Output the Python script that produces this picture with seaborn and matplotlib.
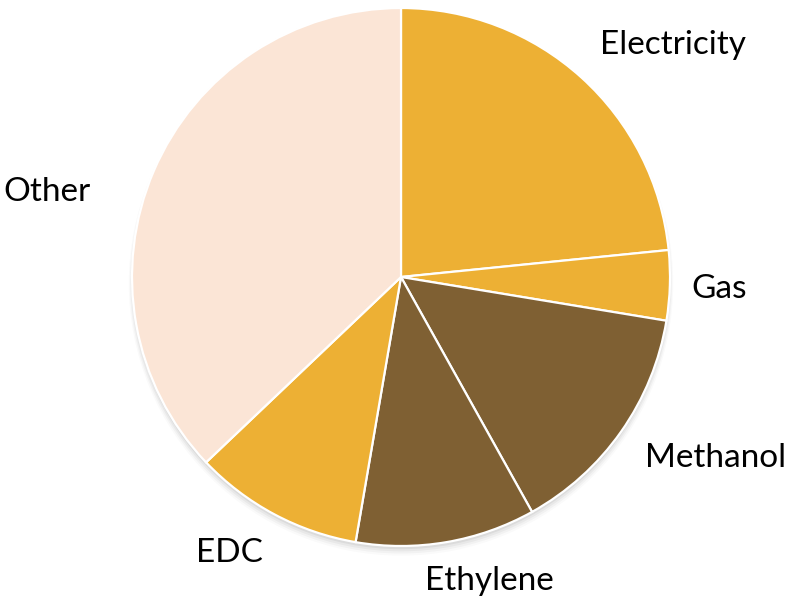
import matplotlib
matplotlib.use("Agg")
import matplotlib.pyplot as plt
import seaborn as sns
from matplotlib.patches import Circle

sns.set_theme(style="white")
plt.rcParams["font.family"] = ["Lato", "DejaVu Sans"]

# Share of each source (%)
categories = ["Electricity", "Gas", "Methanol", "Ethylene", "EDC", "Other"]
shares = [23.4, 4.2, 14.3, 10.8, 10.2, 37.1]

gold = "#EDB034"
brown = "#7F6033"
peach = "#FBE5D6"
colors = [gold, gold, brown, brown, gold, peach]

# Label anchor points, in units of the pie radius
label_pos = [(1.011, 0.862), (1.182, -0.045), (1.171, -0.673),
             (0.327, -1.130), (-0.639, -1.026), (-1.316, 0.316)]

fig = plt.figure(figsize=(7.94, 6.02), dpi=100)
ax = fig.add_axes([0, 0, 1, 1])

# soft drop shadow under the pie
for i, a in enumerate([0.05, 0.04, 0.03, 0.02]):
    ax.add_patch(Circle((0.0, -0.012 - 0.004 * i), 1.0 + 0.004 * i,
                        color="black", alpha=a, lw=0, zorder=0))

wedges, texts = ax.pie(
    shares, labels=categories, colors=colors, startangle=90,
    counterclock=False, radius=1.0,
    wedgeprops=dict(edgecolor="white", linewidth=1.6),
    textprops=dict(fontsize=24, color="black"),
)
for t, (x, y) in zip(texts, label_pos):
    t.set_position((x, y))
    t.set_ha("center")
    t.set_va("center")

ax.set_xlim(-401 / 269, (794 - 401) / 269)
ax.set_ylim(-(602 - 277) / 269, 277 / 269)
ax.set_aspect("auto")
ax.axis("off")

fig.savefig("out.png", dpi=100, facecolor="white")
